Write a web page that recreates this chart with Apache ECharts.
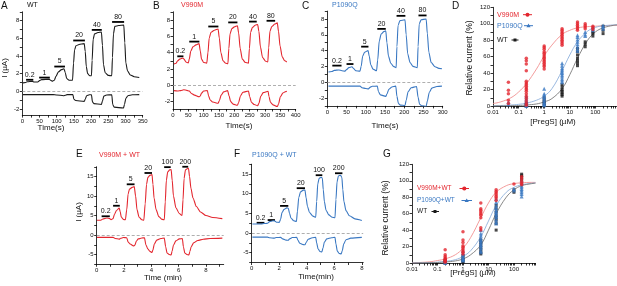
<!DOCTYPE html>
<html>
<head>
<meta charset="utf-8">
<script src="https://cdn.jsdelivr.net/npm/echarts@6/dist/echarts.min.js"></script>
<style>
  html, body { margin: 0; padding: 0; background: #fff; }
  #main { width: 617px; height: 286px; }
</style>
</head>
<body>
<div id="main"></div>
<script>
// ---- trace data: [time, current] ----
var wtUp = [[2,0.95],[10,1.0],[14,1.08],[30,1.12],[34,1.05],[45,1.05],[50,1.2],[56,1.32],[78,1.38],[82,1.25],[88,1.15],[93,1.25],[98,1.7],[105,2.2],[114,2.45],[121,2.55],[125,2.1],[129,1.45],[136,1.25],[146,1.25],[149,3.2],[152,4.7],[156,5.15],[165,5.3],[180,5.4],[183,4.5],[186,2.8],[190,2.0],[196,1.75],[201,1.75],[203,3.5],[206,5.9],[210,6.5],[220,6.65],[230,6.7],[233,5.2],[236,3.0],[241,2.1],[250,1.8],[260,1.75],[262,3.8],[265,6.5],[269,7.35],[280,7.45],[295,7.5],[298,5.5],[301,3.2],[306,2.3],[314,1.85],[325,1.65],[340,1.55]];
var wtDn = [[2,-0.38],[90,-0.38],[100,-0.42],[120,-0.5],[125,-0.45],[130,-0.38],[147,-0.38],[150,-0.9],[155,-1.05],[180,-1.15],[183,-0.9],[187,-0.5],[195,-0.4],[201,-0.4],[204,-1.2],[208,-1.4],[230,-1.5],[233,-1.1],[237,-0.55],[245,-0.42],[260,-0.4],[263,-1.5],[267,-1.8],[294,-1.9],[297,-1.5],[301,-0.8],[307,-0.5],[320,-0.4],[340,-0.38]];
var v990mUp = [[3,2.6],[10,2.7],[15,3.0],[22,3.2],[32,3.35],[36,3.2],[42,2.85],[50,2.75],[53,3.2],[58,4.2],[65,4.7],[75,4.95],[85,5.1],[89,4.2],[93,3.2],[100,2.8],[110,2.7],[114,4.0],[118,5.8],[124,6.5],[135,6.75],[147,6.9],[151,5.8],[156,4.0],[163,3.0],[172,2.7],[179,2.65],[182,4.5],[186,6.3],[192,6.95],[200,7.15],[210,7.3],[214,6.4],[219,4.5],[226,3.2],[236,2.8],[246,2.7],[249,4.5],[253,6.5],[259,7.1],[268,7.35],[276,7.45],[280,6.6],[285,4.7],[292,3.4],[302,2.95],[309,2.85],[312,4.6],[316,6.6],[322,7.2],[332,7.5],[340,7.65],[344,6.6],[349,4.8],[356,3.5],[364,3.0],[371,2.85]];
var v990mDn = [[3,-0.65],[15,-0.7],[25,-0.65],[35,-0.55],[45,-0.62],[53,-0.7],[60,-1.0],[70,-1.2],[85,-1.4],[89,-1.3],[93,-0.95],[100,-0.7],[112,-0.65],[116,-1.3],[121,-1.8],[130,-2.05],[147,-2.2],[151,-1.9],[157,-1.2],[165,-0.8],[178,-0.65],[183,-1.3],[188,-2.0],[196,-2.3],[210,-2.45],[214,-2.1],[220,-1.3],[228,-0.85],[246,-0.7],[250,-1.4],[256,-2.1],[265,-2.35],[276,-2.5],[280,-2.2],[286,-1.35],[294,-0.9],[310,-0.72],[313,-1.4],[318,-2.1],[326,-2.4],[340,-2.6],[344,-2.3],[350,-1.4],[358,-0.95],[366,-0.78],[371,-0.72]];
var p1090qUp = [[3,1.3],[12,1.35],[18,1.5],[30,1.55],[38,1.45],[46,1.4],[50,1.6],[56,1.85],[64,1.95],[69,1.7],[74,1.45],[85,1.4],[88,2.0],[92,3.3],[97,3.8],[106,4.0],[109,3.3],[113,2.2],[119,1.65],[128,1.45],[131,2.8],[135,5.2],[140,6.1],[147,6.4],[152,6.5],[155,5.0],[159,3.3],[165,2.4],[172,2.0],[179,1.85],[181,4.5],[184,7.2],[189,7.8],[202,7.9],[205,6.0],[209,3.6],[215,2.5],[223,2.0],[234,1.85],[236,4.5],[239,7.4],[244,7.9],[257,8.0],[260,6.2],[264,3.8],[270,2.5],[280,1.95],[290,1.75],[298,1.7]];
var p1090qDn = [[3,-0.5],[85,-0.5],[90,-0.7],[100,-0.8],[107,-0.85],[111,-0.65],[117,-0.52],[130,-0.5],[133,-1.2],[138,-1.6],[152,-1.8],[155,-1.5],[160,-0.9],[168,-0.6],[178,-0.5],[181,-1.8],[185,-2.7],[190,-2.9],[202,-2.95],[205,-2.3],[210,-1.2],[218,-0.7],[232,-0.55],[236,-1.9],[240,-2.8],[246,-3.0],[257,-3.05],[260,-2.4],[265,-1.3],[272,-0.75],[285,-0.55],[298,-0.5]];
var v990mWtUp = [[0.02,3.8],[0.3,3.8],[0.45,4.1],[0.75,4.35],[0.95,4.2],[1.05,3.95],[1.2,4.2],[1.3,5.3],[1.45,6.3],[1.65,6.9],[1.72,6.0],[1.8,4.6],[1.95,4.0],[2.1,3.9],[2.2,6.5],[2.3,10.5],[2.4,11.8],[2.6,12.2],[2.75,12.4],[2.85,10.0],[2.95,6.5],[3.1,4.6],[3.3,3.9],[3.45,3.8],[3.55,8.0],[3.65,13.0],[3.75,14.8],[3.9,15.3],[4.05,15.5],[4.12,13.0],[4.2,9.5],[4.35,6.5],[4.55,4.7],[4.8,4.0],[4.95,3.9],[5.02,8.5],[5.1,14.0],[5.2,16.2],[5.35,16.7],[5.45,16.8],[5.53,14.0],[5.62,10.0],[5.8,7.0],[6.05,5.5],[6.25,5.0],[6.32,9.0],[6.4,14.5],[6.5,16.7],[6.62,17.0],[6.72,17.1],[6.8,15.0],[6.9,12.0],[7.05,9.5],[7.3,7.3],[7.6,5.9],[8.0,5.0],[8.5,4.5],[9.2,4.2]];
var v990mWtDn = [[0.02,-0.6],[1.2,-0.6],[1.35,-0.9],[1.65,-1.05],[1.75,-0.85],[1.95,-0.65],[2.2,-0.7],[2.3,-1.8],[2.45,-2.3],[2.7,-2.8],[2.8,-2.6],[2.9,-1.6],[3.05,-1.0],[3.3,-0.75],[3.5,-0.7],[3.6,-2.5],[3.75,-3.6],[3.9,-4.2],[4.05,-4.5],[4.12,-3.8],[4.22,-2.3],[4.4,-1.3],[4.7,-0.9],[4.95,-0.8],[5.05,-3.0],[5.15,-4.6],[5.3,-5.0],[5.45,-5.1],[5.52,-4.2],[5.62,-2.6],[5.8,-1.5],[6.05,-1.0],[6.27,-0.9],[6.35,-3.0],[6.45,-4.6],[6.6,-5.0],[6.75,-5.1],[6.82,-4.3],[6.92,-3.0],[7.1,-2.0],[7.4,-1.4],[7.8,-1.1],[8.3,-0.9],[9.2,-0.8]];
var p1090qWtUp = [[0.05,2.3],[0.7,2.3],[0.9,2.45],[1.05,2.4],[1.15,2.5],[1.3,2.9],[1.55,3.1],[1.68,3.05],[1.8,2.75],[2.0,2.7],[2.1,3.5],[2.2,5.2],[2.35,6.0],[2.55,6.4],[2.66,6.3],[2.75,5.0],[2.85,3.8],[3.05,3.1],[3.25,2.95],[3.32,5.5],[3.42,9.0],[3.55,10.5],[3.75,10.9],[3.87,10.9],[3.95,9.0],[4.05,6.8],[4.2,5.2],[4.45,4.3],[4.65,4.0],[4.72,8.0],[4.8,12.5],[4.9,13.9],[5.05,14.2],[5.13,14.0],[5.2,11.0],[5.28,8.0],[5.4,5.8],[5.6,4.6],[5.85,4.0],[6.05,3.9],[6.12,8.5],[6.2,13.0],[6.3,14.5],[6.45,14.7],[6.55,14.2],[6.62,11.0],[6.7,8.0],[6.85,5.7],[7.1,4.4],[7.5,3.6],[8.0,3.2]];
var p1090qWtDn = [[0.05,-1.05],[1.15,-1.05],[1.3,-1.2],[1.65,-1.3],[1.8,-1.15],[2.1,-1.1],[2.25,-1.5],[2.5,-1.8],[2.65,-1.85],[2.75,-1.5],[2.95,-1.15],[3.27,-1.1],[3.35,-1.8],[3.5,-2.6],[3.75,-2.95],[3.87,-3.0],[3.95,-2.4],[4.1,-1.6],[4.4,-1.2],[4.65,-1.1],[4.72,-2.5],[4.82,-4.0],[4.95,-4.7],[5.1,-4.8],[5.18,-3.8],[5.28,-2.3],[5.45,-1.5],[5.8,-1.2],[6.05,-1.1],[6.12,-2.8],[6.22,-4.6],[6.35,-5.2],[6.5,-5.3],[6.58,-4.5],[6.68,-2.8],[6.85,-1.7],[7.2,-1.3],[8.0,-1.1]];

// ---- application bars: start, end, level, label ----
var barsA = { start: [11,49,93,148,202,261], end: [32,80,124,182,231,296], level: [1.3,1.55,2.8,5.75,6.95,7.85], label: ['0.2','1','5','20','40','80'] };
var barsB = { start: [14,53,115,180,248,305], end: [34,86,148,210,273,333], level: [3.55,5.35,7.2,7.7,7.8,7.9], label: ['0.2','1','5','20','40','80'] };
var barsC = { start: [13,50,88,130,180,237], end: [37,68,107,152,203,258], level: [2.1,2.3,4.5,6.75,8.4,8.45], label: ['0.2','1','5','20','40','80'] };
var barsE = { start: [0.36,1.2,2.2,3.5,4.94,6.27], end: [0.96,1.69,2.77,4.05,5.42,6.7], level: [4.8,7.5,13,15.9,17.4,17.5], label: ['0.2','1','5','20','100','200'] };
var barsF = { start: [0.36,1.16,2.06,3.27,4.65,6.05], end: [0.92,1.69,2.66,3.87,5.13,6.59], level: [2.6,3.3,6.9,11.4,14.7,15.2], label: ['0.2','1','5','20','100','200'] };

// ---- dose response, panel D ----
var concD = [0.04, 0.2, 1, 5, 20, 40, 80, 200];
var dV990M = [[29,19,15,7,3],[58,55,51,43,30,28,26,24,22,20,18,15,12,9,6,3,1],[73,71,69,66,64,62,60,58,56,54,52,50,48,45],[94,92,90,88,86,84,82,80,78,76,74],[102,100,98,96,94,92],[100,98,96,94],[97,95,93],[]];
var dP1090Q = [[5,2],[12,9,7,5,4,3,2,1,0],[21,15,13,11,9,7,5,3,2,1],[52,49,46,44,42,40,38,36,33,31,29],[86,84,81,78,75,72,69,67],[90,87,85],[96,94,92],[98,96,94]];
var dWT = [[],[3,1,0],[10,7,5,3,1],[26,23,20,18,16,14,12],[70,66,62,58,55,52,49],[78,75,72],[90,88,85],[97,92,88]];
var fitX = [0.01,0.02,0.05,0.1,0.2,0.5,1,2,5,10,20,50,100,200,500,700];
var fitDV990M = [3,5,10,17,27,45,61,74,87,92,95,96.5,97,97.5,98,98];
var fitDP1090Q = [0.3,0.6,1.2,2,3.5,7,12,21,43,62,78,91,95.5,97.5,98.5,99];
var fitDWT = [0,0.1,0.3,0.6,1.2,2.5,5,9,21,38,58,80,90,95,98,98.5];

// ---- dose response, panel G ----
var concG = [0.2, 1, 5, 20, 100, 200];
var gV990MWT = [[16,10,8,6,5,4,3,2,1],[38,28,25,21,19,17,15,13,11],[73,66,64,62,60,58,55,43,40],[89,87,85,83,81,79,76],[96],[105,102,99,97,95]];
var gP1090QWT = [[6,4,3,2,1,0],[15,12,10,8,6,5,4,3],[40,36,33,30,28,26,24,22,20,18,15,13],[78,74,70,67,64,62,60,58,56,53,50,48],[90,88],[100,97,94,92,90,88,86,84,81]];
var gWT = [[3,2,1,0],[9,6,4,2,1],[28,25,22,19,16,13,11],[70,66,62,58,55,52,48,40],[89,86],[108,106,104,101]];
var fitGV990MWT = [0.3,0.6,1.5,3,5,10,18,31,55,73,86,94,96.5,97.5,98,98];
var fitGP1090QWT = [0.1,0.2,0.5,1,2,4,8,15,32,51,70,86,92,95,97,97.5];
var fitGWT = [0,0.1,0.3,0.6,1.2,2.5,5,10,22,40,60,80,89,94,96.5,97];

// ---- tick labels ----
var tickA_x = [0,50,100,150,200,250,300,350];
var tickB_x = [0,50,100,150,200,250,300,350,400];
var tickC_x = [0,50,100,150,200,250,300];
var tickABC_y = [-2,0,2,4,6,8];
var tickEF_x = [0,2,4,6,8];
var tickEF_y = [-5,0,5,10,15];
var tickLog_x = [0.01,0.1,1,10,100];
var tickPct_y = [0,20,40,60,80,100,120];

var RED = '#e3262e', BLUE = '#3a78c2', BLACK = '#1a1a1a';
var FONT = '"Liberation Sans", Arial, sans-serif';

function steps(a, b, s) { var o = []; for (var v = a; v <= b + 1e-9; v += s) o.push(+v.toFixed(4)); return o; }
// minor log ticks 1..9 per decade, up to the axis end
var logMinor = [];
[0.01, 0.1, 1, 10, 100].forEach(function (d) {
  for (var k = 1; k <= 9; k++) { var v = +(d * k).toPrecision(3); if (v <= 700) logMinor.push(v); }
});

function axis(gi, type, min, max, labels, ticks) {
  return {
    type: type, gridIndex: gi, min: min, max: max, logBase: 10,
    axisLine: { show: true, onZero: false, lineStyle: { color: '#000', width: 0.8 } },
    axisTick: { show: true, customValues: ticks, length: 2.5, lineStyle: { color: '#000', width: 0.8 } },
    axisLabel: { customValues: labels, fontSize: 6, margin: 3, color: '#111', fontFamily: FONT,
      formatter: function (v) { return String(+Number(v).toPrecision(4)); } },
    splitLine: { show: false }
  };
}

function trace(i, data, color) {
  return { type: 'line', xAxisIndex: i, yAxisIndex: i, data: data, showSymbol: false, smooth: 0.25,
    smoothMonotone: 'x', lineStyle: { color: color, width: 1.1 }, silent: true };
}
function zeroLine(i) {
  return { type: 'line', xAxisIndex: i, yAxisIndex: i, data: [], silent: true,
    markLine: { symbol: ['none', 'none'], silent: true, label: { show: false },
      lineStyle: { color: '#9a9a9a', type: [3, 2], width: 0.8 }, data: [{ yAxis: 0 }] } };
}
function bars(i, b) {
  var data = b.start.map(function (s, k) { return [s, b.end[k], b.level[k]]; });
  return { type: 'custom', xAxisIndex: i, yAxisIndex: i, data: data, encode: { x: [0, 1], y: 2 }, silent: true,
    renderItem: function (params, api) {
      var p1 = api.coord([api.value(0), api.value(2)]);
      var p2 = api.coord([api.value(1), api.value(2)]);
      return { type: 'group', children: [
        { type: 'line', shape: { x1: p1[0], y1: p1[1], x2: p2[0], y2: p2[1] }, style: { stroke: '#000', lineWidth: 1.8 } },
        { type: 'text', style: { text: b.label[params.dataIndex], x: (p1[0] + p2[0]) / 2, y: p1[1] - 1.5,
          align: 'center', verticalAlign: 'bottom', fontSize: 7, fontFamily: FONT, fill: '#111' } }
      ] };
    } };
}
function pts(conc, groups) {
  var o = [];
  groups.forEach(function (g, k) { g.forEach(function (v) { o.push([conc[k], v]); }); });
  return o;
}
function scatter(i, data, color, symbol, size) {
  return { type: 'scatter', xAxisIndex: i, yAxisIndex: i, data: data, symbol: symbol, symbolSize: size,
    itemStyle: { color: color }, silent: true, z: 3 };
}
function fit(i, ys, color) {
  return { type: 'line', xAxisIndex: i, yAxisIndex: i, data: fitX.map(function (x, k) { return [x, ys[k]]; }),
    showSymbol: false, smooth: 0.4, lineStyle: { color: color, width: 0.9 }, silent: true, z: 2 };
}
function txt(s, x, y, size, color, extra) {
  var e = { type: 'text', x: x, y: y, silent: true,
    style: { text: s, fontSize: size, fontFamily: FONT, fill: color, align: 'left', verticalAlign: 'middle' } };
  if (extra) { for (var k in extra) { if (k === 'rotation') e.rotation = extra[k]; else e.style[k] = extra[k]; } }
  return e;
}
function vtxt(s, x, y, size) { return txt(s, x, y, size, '#111', { rotation: Math.PI / 2, align: 'center' }); }

var myChart = echarts.init(document.getElementById('main'), null, { renderer: 'canvas' });

var option = {
  animation: false,
  backgroundColor: '#fff',
  grid: [
    { left: 22.3, top: 11.8, width: 120.4, height: 103.3 },
    { left: 173, top: 11.8, width: 122.7, height: 97.2 },
    { left: 327.3, top: 11.1, width: 115.4, height: 94.8 },
    { left: 493, top: 7.3, width: 124, height: 98.7 },
    { left: 96.7, top: 166.75, width: 127, height: 97.5 },
    { left: 251.7, top: 164.2, width: 111.5, height: 98.3 },
    { left: 412, top: 164.3, width: 123.5, height: 98.7 }
  ],
  xAxis: [
    axis(0, 'value', 0, 350, tickA_x, steps(0, 350, 25)),
    axis(1, 'value', 0, 400, tickB_x, steps(0, 400, 25)),
    axis(2, 'value', 0, 300, tickC_x, steps(0, 300, 25)),
    axis(3, 'log', 0.01, 700, tickLog_x, logMinor),
    axis(4, 'value', 0, 9.3, tickEF_x, steps(0, 9, 1)),
    axis(5, 'value', 0, 8.1, tickEF_x, steps(0, 8, 1)),
    axis(6, 'log', 0.01, 700, tickLog_x, logMinor)
  ],
  yAxis: [
    axis(0, 'value', -2.7, 9, tickABC_y, steps(-2, 9, 1)),
    axis(1, 'value', -2.9, 9, tickABC_y, steps(-2, 9, 1)),
    axis(2, 'value', -3, 9, tickABC_y, steps(-3, 9, 1)),
    axis(3, 'value', 0, 120, tickPct_y, steps(0, 120, 10)),
    axis(4, 'value', -7.5, 17.5, tickEF_y, steps(-7.5, 17.5, 2.5)),
    axis(5, 'value', -7.5, 17.5, tickEF_y, steps(-7.5, 17.5, 2.5)),
    axis(6, 'value', 0, 120, tickPct_y, steps(0, 120, 10))
  ],
  series: [
    zeroLine(0), trace(0, wtUp, BLACK), trace(0, wtDn, BLACK), bars(0, barsA),
    zeroLine(1), trace(1, v990mUp, RED), trace(1, v990mDn, RED), bars(1, barsB),
    zeroLine(2), trace(2, p1090qUp, BLUE), trace(2, p1090qDn, BLUE), bars(2, barsC),
    fit(3, fitDV990M, '#f29191'), fit(3, fitDP1090Q, '#8fb1dc'), fit(3, fitDWT, '#7a7a7a'),
    scatter(3, pts(concD, dWT), BLACK, 'rect', 3),
    scatter(3, pts(concD, dP1090Q), BLUE, 'triangle', 4),
    scatter(3, pts(concD, dV990M), RED, 'circle', 3.5),
    zeroLine(4), trace(4, v990mWtUp, RED), trace(4, v990mWtDn, RED), bars(4, barsE),
    zeroLine(5), trace(5, p1090qWtUp, BLUE), trace(5, p1090qWtDn, BLUE), bars(5, barsF),
    fit(6, fitGV990MWT, '#f29191'), fit(6, fitGP1090QWT, '#8fb1dc'), fit(6, fitGWT, '#7a7a7a'),
    scatter(6, pts(concG, gWT), BLACK, 'rect', 3),
    scatter(6, pts(concG, gP1090QWT), BLUE, 'triangle', 4),
    scatter(6, pts(concG, gV990MWT), RED, 'circle', 3.5)
  ],
  graphic: [
    // panel letters
    txt('A', 1, 6, 10, '#111'), txt('B', 153, 6, 10, '#111'), txt('C', 302, 6, 10, '#111'),
    txt('D', 452, 6, 10, '#111'), txt('E', 76, 154, 10, '#111'), txt('F', 234, 154, 10, '#111'),
    txt('G', 383, 154, 10, '#111'),
    // sample names
    txt('WT', 27, 5.5, 7, '#111'), txt('V990M', 181, 5.5, 7, RED), txt('P1090Q', 332, 5.5, 7, BLUE),
    txt('V990M + WT', 99, 155, 7, RED), txt('P1090Q + WT', 252, 155, 7, BLUE),
    // axis names
    vtxt('I (\u00b5A)', 5, 68, 8), vtxt('I (\u00b5A)', 79, 212, 8),
    vtxt('Relative current (%)', 470, 58, 8.5), vtxt('Relative current (%)', 386, 218, 8.5),
    txt('Time(s)', 51, 128, 8, '#111', { align: 'center' }),
    txt('Time(s)', 239, 126, 8, '#111', { align: 'center' }),
    txt('Time(s)', 385, 126, 8, '#111', { align: 'center' }),
    txt('[PregS] (\u00b5M)', 553, 122, 8, '#111', { align: 'center' }),
    txt('Time (min)', 163, 278, 8, '#111', { align: 'center' }),
    txt('Time(min)', 316, 277, 8, '#111', { align: 'center' }),
    txt('[PregS] (\u00b5M)', 473, 273, 8, '#111', { align: 'center' }),
    // legend D
    txt('V990M', 497, 14.7, 7, RED),
    { type: 'line', shape: { x1: 523, y1: 14.7, x2: 532, y2: 14.7 }, style: { stroke: RED, lineWidth: 1 } },
    { type: 'circle', shape: { cx: 527.5, cy: 14.7, r: 2 }, style: { fill: RED } },
    txt('P1090Q', 497, 25.7, 7, BLUE),
    { type: 'line', shape: { x1: 524, y1: 25.7, x2: 533, y2: 25.7 }, style: { stroke: BLUE, lineWidth: 1 } },
    { type: 'polygon', shape: { points: [[528.5, 23.6], [526.4, 27.2], [530.6, 27.2]] }, style: { fill: BLUE } },
    txt('WT', 497, 40, 7, BLACK),
    { type: 'line', shape: { x1: 511.5, y1: 40, x2: 518.5, y2: 40 }, style: { stroke: BLACK, lineWidth: 1 } },
    { type: 'rect', shape: { x: 513.5, y: 38.5, width: 3, height: 3 }, style: { fill: BLACK } },
    // legend G
    txt('V990M+WT', 417, 188.5, 6.5, RED),
    { type: 'line', shape: { x1: 459.5, y1: 188.5, x2: 469, y2: 188.5 }, style: { stroke: RED, lineWidth: 1 } },
    { type: 'circle', shape: { cx: 464.3, cy: 188.5, r: 2.1 }, style: { fill: RED } },
    txt('P1090Q+WT', 417, 200.5, 6.5, BLUE),
    { type: 'line', shape: { x1: 461.5, y1: 200.5, x2: 472, y2: 200.5 }, style: { stroke: BLUE, lineWidth: 1 } },
    { type: 'polygon', shape: { points: [[466.7, 198.4], [464.6, 202], [468.8, 202]] }, style: { fill: BLUE } },
    txt('WT', 417, 211.5, 6.5, BLACK),
    { type: 'line', shape: { x1: 431.5, y1: 211.5, x2: 439, y2: 211.5 }, style: { stroke: BLACK, lineWidth: 1 } },
    { type: 'rect', shape: { x: 433.5, y: 210, width: 3, height: 3 }, style: { fill: BLACK } }
  ]
};

myChart.setOption(option);
</script>
</body>
</html>
